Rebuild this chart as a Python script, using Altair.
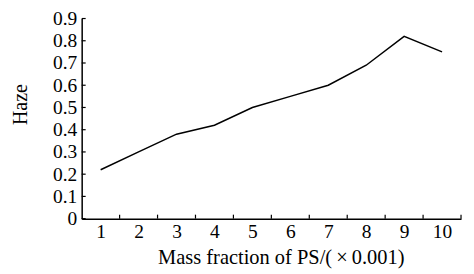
import altair as alt
import pandas as pd

# Data
mass_fraction = [1, 2, 3, 4, 5, 6, 7, 8, 9, 10]
haze = [0.22, 0.30, 0.38, 0.42, 0.50, 0.55, 0.60, 0.69, 0.82, 0.75]

# Axis tick values
x_labels = [1, 2, 3, 4, 5, 6, 7, 8, 9, 10]
x_tick_bounds = [1.5, 2.5, 3.5, 4.5, 5.5, 6.5, 7.5, 8.5, 9.5, 10.5]
y_ticks = [0, 0.1, 0.2, 0.3, 0.4, 0.5, 0.6, 0.7, 0.8, 0.9]

W, H = 381, 201
FONT = "Liberation Serif"

df = pd.DataFrame({"mass": mass_fraction, "haze": haze})

xscale = alt.Scale(domain=[0.5, 10.5], nice=False, zero=False)
yscale = alt.Scale(domain=[0, 0.9], nice=False, zero=True)

xaxis = alt.Axis(
    values=x_labels,
    ticks=False,
    grid=False,
    domainColor="black",
    domainWidth=1.5,
    labelFont=FONT,
    labelFontSize=19.5,
    labelColor="black",
    labelPadding=4,
    labelFlush=False,
    title="Mass fraction of PS/(\u2009\u00d7\u20090.001)",
    titleFont=FONT,
    titleFontSize=20.5,
    titleFontWeight="normal",
    titleColor="black",
    titleX=200,
    titleY=29,
)

yaxis = alt.Axis(
    values=y_ticks,
    format=".1~f",
    ticks=False,
    grid=False,
    domainColor="black",
    domainWidth=1.5,
    labelFont=FONT,
    labelFontSize=19.5,
    labelColor="black",
    labelPadding=5,
    labelFlush=False,
    title="Haze",
    titleFont=FONT,
    titleFontSize=20,
    titleFontWeight="normal",
    titleColor="black",
    titleX=-51,
    titleY=86,
)

line = alt.Chart(df).mark_line(color="black", strokeWidth=1.5).encode(
    x=alt.X("mass:Q", scale=xscale, axis=xaxis),
    y=alt.Y("haze:Q", scale=yscale, axis=yaxis),
)

xticks = alt.Chart(pd.DataFrame({"b": x_tick_bounds})).mark_rule(
    color="black", strokeWidth=1.2
).encode(
    x=alt.X("b:Q", scale=xscale, axis=xaxis),
    y=alt.value(H),
    y2=alt.value(H - 4),
)

yticks = alt.Chart(pd.DataFrame({"t": y_ticks})).mark_rule(
    color="black", strokeWidth=1.2
).encode(
    y=alt.Y("t:Q", scale=yscale, axis=yaxis),
    x=alt.value(0),
    x2=alt.value(4),
)

chart = (
    alt.layer(line, xticks, yticks)
    .properties(
        width=W,
        height=H,
        autosize="none",
        padding={"left": 74, "top": 10, "right": 5, "bottom": 50},
        background="white",
    )
    .configure_view(stroke=None)
)

chart.save("out.html", embed_options={"renderer": "svg", "actions": False})
